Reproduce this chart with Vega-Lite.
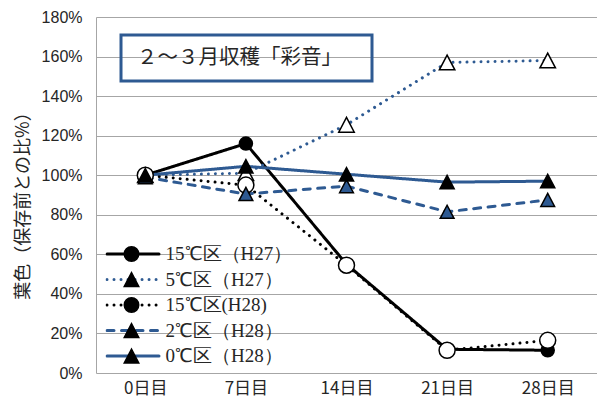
{
  "$schema": "https://vega.github.io/schema/vega-lite/v6.json",
  "width": 501,
  "height": 356,
  "autosize": "none",
  "padding": {"left": 96, "top": 17, "right": 0, "bottom": 38},
  "background": "white",
  "config": {"view": {"stroke": null}},
  "datasets": {
    "main": [
      {"series": "15℃区（H27）", "day": "0日目", "v": 100},
      {"series": "15℃区（H27）", "day": "7日目", "v": 116},
      {"series": "15℃区（H27）", "day": "14日目", "v": 55},
      {"series": "15℃区（H27）", "day": "21日目", "v": 12},
      {"series": "15℃区（H27）", "day": "28日目", "v": 11.5},
      {"series": "5℃区（H27）", "day": "0日目", "v": 100},
      {"series": "5℃区（H27）", "day": "7日目", "v": 101},
      {"series": "5℃区（H27）", "day": "14日目", "v": 125.5},
      {"series": "5℃区（H27）", "day": "21日目", "v": 157},
      {"series": "5℃区（H27）", "day": "28日目", "v": 158},
      {"series": "15℃区(H28)", "day": "0日目", "v": 100},
      {"series": "15℃区(H28)", "day": "7日目", "v": 95},
      {"series": "15℃区(H28)", "day": "14日目", "v": 54.5},
      {"series": "15℃区(H28)", "day": "21日目", "v": 11.5},
      {"series": "15℃区(H28)", "day": "28日目", "v": 16.5},
      {"series": "2℃区（H28）", "day": "0日目", "v": 99},
      {"series": "2℃区（H28）", "day": "7日目", "v": 90.5},
      {"series": "2℃区（H28）", "day": "14日目", "v": 94.5},
      {"series": "2℃区（H28）", "day": "21日目", "v": 81.5},
      {"series": "2℃区（H28）", "day": "28日目", "v": 87.5},
      {"series": "0℃区（H28）", "day": "0日目", "v": 100},
      {"series": "0℃区（H28）", "day": "7日目", "v": 104.5},
      {"series": "0℃区（H28）", "day": "14日目", "v": 100.5},
      {"series": "0℃区（H28）", "day": "21日目", "v": 96.5},
      {"series": "0℃区（H28）", "day": "28日目", "v": 97}
    ],
    "note": [{"note": "２～３月収穫「彩音」"}]
  },
  "layer": [
    {
      "data": {"name": "main"},
      "encoding": {
        "x": {
          "field": "day", "type": "nominal",
          "sort": ["0日目", "7日目", "14日目", "21日目", "28日目"],
          "scale": {"type": "point", "padding": 0.49},
          "axis": {
            "title": null, "labelAngle": 0, "domain": false, "ticks": false, "grid": false,
            "labelFont": "Noto Sans CJK JP", "labelFontSize": 17, "labelColor": "#262626", "labelPadding": 7
          }
        },
        "y": {
          "field": "v", "type": "quantitative",
          "scale": {"domain": [0, 180], "nice": false, "zero": true},
          "axis": {
            "values": [0, 20, 40, 60, 80, 100, 120, 140, 160, 180],
            "labelExpr": "datum.value + '%'",
            "labelOverlap": false,
            "title": "葉色（保存前との比%）",
            "titleFont": "Noto Sans CJK JP", "titleFontSize": 18, "titleFontWeight": "normal", "titleColor": "#262626",
            "titleX": -73, "titleY": 184, "titleBaseline": "middle", "titleAlign": "center",
            "labelFont": "Liberation Sans", "labelFontSize": 16, "labelColor": "#262626", "labelPadding": 14,
            "ticks": false, "grid": true, "gridColor": "#a6a6a6", "gridWidth": 1,
            "domain": true, "domainColor": "#a6a6a6", "domainWidth": 1
          }
        }
      },
      "layer": [
        {
          "mark": {"type": "line", "strokeWidth": 3, "strokeCap": "round", "strokeJoin": "round"},
          "encoding": {
            "color": {
              "field": "series", "type": "nominal",
              "scale": {
                "domain": ["15℃区（H27）", "5℃区（H27）", "15℃区(H28)", "2℃区（H28）", "0℃区（H28）"],
                "range": ["#000000", "#2e5a92", "#000000", "#2e5a92", "#2e5a92"]
              },
              "legend": {
                "title": null, "orient": "none", "legendX": 9.5, "legendY": 225,
                "symbolType": "stroke", "symbolSize": 2704, "symbolStrokeWidth": 3,
                "clipHeight": 24, "rowPadding": 1.5, "padding": 0, "labelOffset": 5,
                "labelFont": "Liberation Serif", "labelFontSize": 19, "labelColor": "#262626", "labelLimit": 300,
                "encode": {"symbols": {"update": {"strokeCap": {"value": "round"}, "strokeWidth": {"value": 3}}}}
              }
            },
            "strokeDash": {
              "field": "series", "type": "nominal",
              "scale": {
                "domain": ["15℃区（H27）", "5℃区（H27）", "15℃区(H28)", "2℃区（H28）", "0℃区（H28）"],
                "range": [[1, 0], [0.01, 7], [0.01, 7], [7, 7.5], [1, 0]]
              },
              "legend": {
                "title": null, "orient": "none", "legendX": 9.5, "legendY": 225,
                "symbolType": "stroke", "symbolSize": 2704, "symbolStrokeWidth": 3,
                "clipHeight": 24, "rowPadding": 1.5, "padding": 0, "labelOffset": 5,
                "labelFont": "Liberation Serif", "labelFontSize": 19, "labelColor": "#262626", "labelLimit": 300,
                "encode": {"symbols": {"update": {"strokeCap": {"value": "round"}, "strokeWidth": {"value": 3}}}}
              }
            }
          }
        },
        {
          "mark": {"type": "point", "filled": true, "stroke": "#000000", "strokeWidth": 1.5, "opacity": 1},
          "encoding": {
            "shape": {
              "field": "series", "type": "nominal",
              "sort": ["15℃区（H27）", "5℃区（H27）", "15℃区(H28)", "2℃区（H28）", "0℃区（H28）"],
              "scale": {"range": ["circle", "M0,-0.95L1,0.95L-1,0.95Z", "circle", "M0,-0.95L1,0.95L-1,0.95Z", "M0,-0.95L1,0.95L-1,0.95Z"]},
              "legend": {
                "title": null, "orient": "none", "legendX": 9.5, "legendY": 225,
                "clipHeight": 24, "rowPadding": 1.5, "padding": 0, "symbolOffset": 18,
                "labelExpr": "''", "labelOpacity": 0, "labelFontSize": 16, "symbolSize": 210,
                "encode": {"symbols": {"update": {
                  "fill": {"scale": "fill", "field": "value"},
                  "stroke": {"value": "#000000"}, "strokeWidth": {"value": 1.5}, "opacity": {"value": 1}
                }}}
              }
            },
            "fill": {
              "field": "series", "type": "nominal",
              "sort": ["15℃区（H27）", "5℃区（H27）", "15℃区(H28)", "2℃区（H28）", "0℃区（H28）"],
              "scale": {"range": ["#000000", "#ffffff", "#ffffff", "#2e5a92", "#000000"]},
              "legend": null
            },
            "size": {
              "field": "series", "type": "nominal",
              "sort": ["15℃区（H27）", "5℃区（H27）", "15℃区(H28)", "2℃区（H28）", "0℃区（H28）"],
              "scale": {"type": "ordinal", "range": [170, 240, 256, 190, 200]},
              "legend": null
            }
          }
        }
      ]
    },
    {
      "data": {"name": "note"},
      "mark": {"type": "point", "opacity": 0},
      "encoding": {
        "stroke": {
          "field": "note", "type": "nominal",
          "scale": {"range": ["#2e5a92"]},
          "legend": {
            "title": null, "orient": "none", "legendX": 126, "legendY": 16.5, "padding": 0,
            "symbolType": "M-5.4565,-1H5.4565V1H-5.4565Z", "symbolSize": 2116, "symbolStrokeWidth": 3,
            "symbolFillColor": "#ffffff", "symbolStrokeColor": "#2e5a92",
            "labelOffset": -134, "labelFont": "Noto Sans CJK JP", "labelFontSize": 20.5, "labelColor": "#262626", "labelLimit": 400,
            "encode": {"symbols": {"update": {
              "shape": {"value": "M-5.4565,-1H5.4565V1H-5.4565Z"},
              "size": {"value": 2116},
              "fill": {"value": "#ffffff"}, "stroke": {"value": "#2e5a92"},
              "strokeWidth": {"value": 3}, "opacity": {"value": 1}, "fillOpacity": {"value": 1}, "strokeOpacity": {"value": 1}
            }}}
          }
        }
      }
    }
  ]
}
